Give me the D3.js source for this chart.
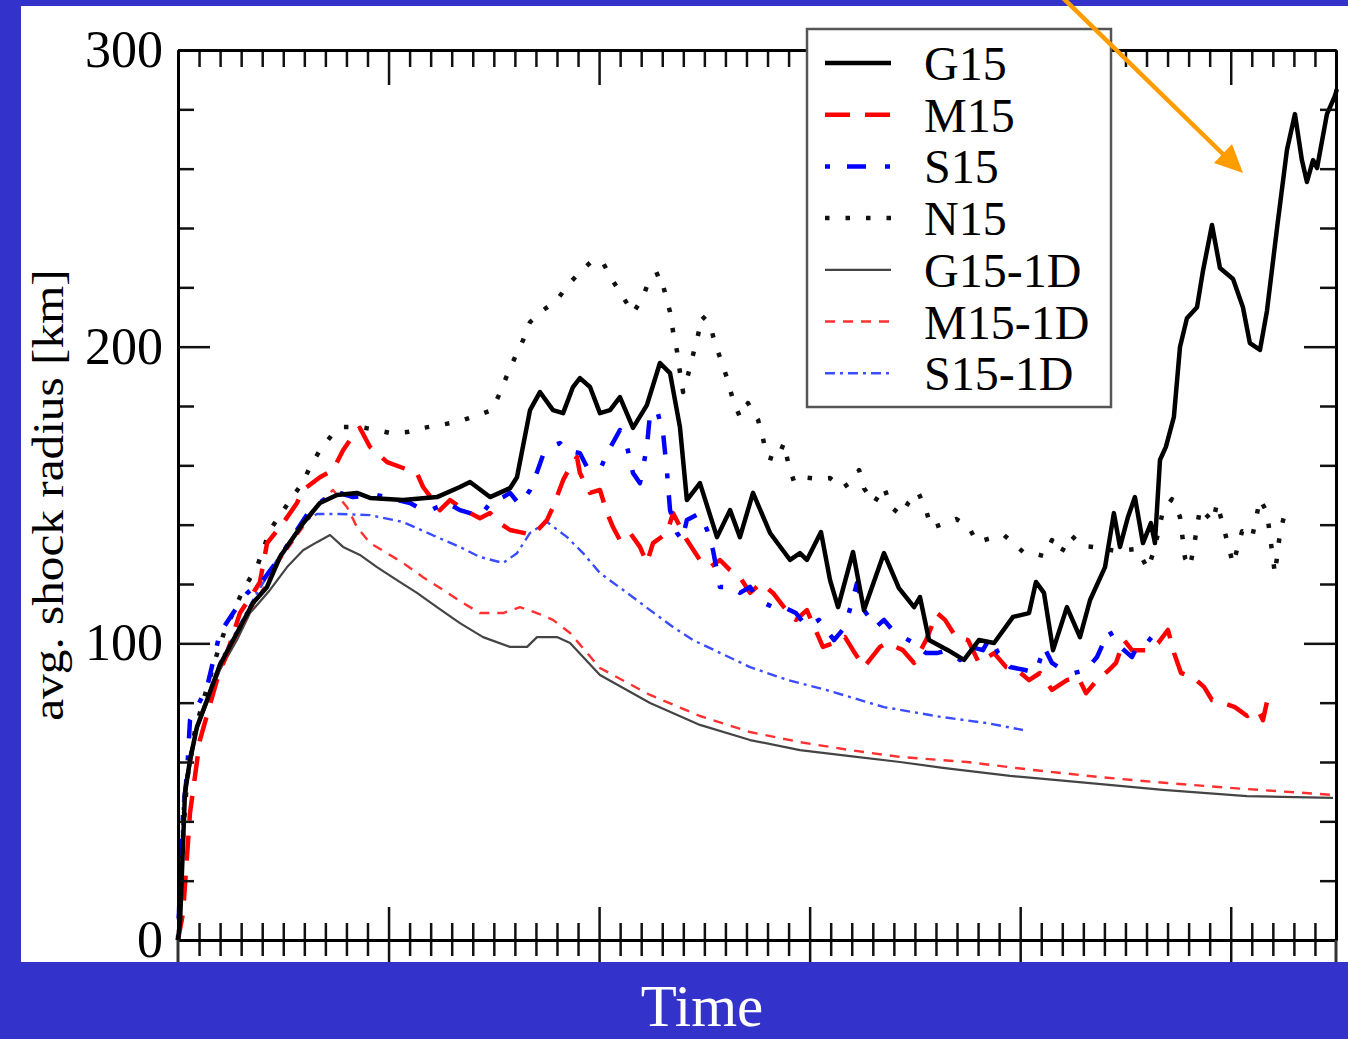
<!DOCTYPE html>
<html>
<head>
<meta charset="utf-8">
<script src="https://cdn.jsdelivr.net/npm/d3@7"></script>
<style>
  html, body { margin: 0; padding: 0; background: #3333cc; }
  svg { display: block; }
</style>
</head>
<body>
<svg id="chart" width="1348" height="1039"></svg>
<script>
// time (ms, unlabelled axis) vs avg. shock radius (km)
const g15 = [[0,0],[1,6.7],[3.3,49.5],[5.7,60.7],[9,71.8],[13.8,80.9],[19.9,92.7],[28,103.5],[35.6,113.6],[42.3,119],[48.4,129.1],[59.4,140.5],[67.4,147.3],[75.5,150],[85,150.7],[91.2,149],[106.9,148.3],[123,149.3],[133.9,152.7],[138.7,154.4],[148.2,149.3],[157.7,152.3],[161,156],[167.2,178.6],[171.9,184.7],[178.1,178.6],[182.9,177.6],[187.6,186.4],[190.9,189.4],[195.7,186.4],[200.4,177.6],[205.2,178.6],[209.9,183],[216.1,172.6],[222.7,180.3],[228.9,194.5],[233.7,191.1],[238.4,172.9],[241.7,148.3],[247.9,154],[256,135.8],[262.2,144.9],[266.9,135.8],[273.1,150.7],[281.2,137.2],[290.7,128.1],[295.4,130.4],[298.7,128.1],[305.4,137.5],[309.7,121.3],[313.5,112.2],[320.6,130.8],[325.8,111.2],[335.3,130.4],[342.4,118.6],[349.6,112.2],[352.4,115.6],[356.7,101.1],[365.7,97.7],[373.3,94.4],[380.4,101.1],[387.6,100.1],[396.6,108.9],[404.2,110.2],[407.5,120.7],[411.3,117],[415.6,97.7],[422.2,112.2],[428.4,102.1],[433.2,114.6],[440.3,125.7],[444.5,143.9],[447.4,132.5],[451.2,142.6],[454.5,149.3],[458.3,133.8],[462.1,140.5],[464,133.8],[466.4,161.8],[469.2,166.2],[473,176.3],[475.9,199.9],[479.2,209.6],[484,213.3],[486.8,225.5],[491.1,241],[494.9,226.5],[501.1,222.8],[505.8,213.3],[509.1,201.2],[513.9,198.9],[517.2,212],[522,240],[526.7,266.3],[530.5,278.4],[533.8,262.9],[536.2,255.5],[539.1,262.9],[541,260.2],[545.7,278.4],[549.5,284.5],[550.4,286.8]];

const m15 = [[0,0],[2.4,9.1],[5.7,42.8],[10.4,67.4],[18.5,87.6],[23.3,96.7],[29.4,110.2],[34.2,115.3],[38.9,120.6],[42.3,133.8],[49.9,140.5],[56.5,147.3],[59.4,151.7],[67.4,156],[73.6,158.4],[78.4,165.1],[85,171.9],[86.4,172.6],[91.2,166.2],[99.3,161.1],[106.9,159.1],[113.5,157.4],[116.4,152.7],[121.1,148.3],[124.4,144.9],[129.2,148.3],[133.9,145.9],[138.7,143.9],[143.4,142.2],[148.2,143.9],[152.9,140.5],[157.7,138.2],[162.4,137.5],[168.6,136.5],[175.3,141.6],[178.1,145.9],[182.9,155],[186.2,159.4],[189.5,162.8],[190.9,157.4],[195.7,150.7],[200.4,151.7],[203.8,143.9],[206.6,139.2],[209.9,134.8],[214.7,137.2],[219.4,132.5],[222.7,127.1],[225.6,133.8],[232.3,137.2],[235.1,143.9],[241.7,134.8],[247.9,128.1],[252.7,125.7],[257.4,128.1],[262.2,124.7],[266.9,122.3],[271.7,117],[276.9,120.3],[282.6,117],[287.8,112.2],[293.5,107.9],[298.7,111.2],[306.3,98.8],[311.6,100.1],[316.8,102.1],[320.6,97.7],[325.8,92],[333.4,98.8],[336.7,100.1],[344.3,97.7],[349.6,93.4],[355.3,101.1],[360.5,110.2],[364.3,107.9],[369.5,102.1],[375.2,101.1],[380.4,93.4],[387.6,96.7],[393.3,92],[398.5,91],[404.2,87.6],[409.4,90],[415.1,84.3],[422.2,87.6],[427.5,88.6],[431.3,83.2],[436.5,87.6],[442.2,91],[445.5,93.4],[449.3,101.1],[453.1,97.7],[460.2,97.7],[465.5,100.1],[470.2,104.5],[473.1,96.7],[476.4,90],[482.1,88.6],[487.3,85.3],[491.1,80.9],[496.3,79.9],[502,78.5],[507.8,75.5],[513,77.5],[515.3,74.1],[517.7,81.9]];

const s15 = [[0,0],[1,20.2],[2.4,42.8],[4.3,56.3],[5.7,74.1],[9,78.5],[13.8,85.3],[19.9,103.5],[28,112.2],[32.8,116.9],[38.9,120.7],[40.4,121.3],[48.4,129.1],[56.5,138.2],[62.7,144.9],[70.8,149.3],[75.5,151],[83.1,149.3],[94.5,150],[104,148.3],[110.2,147.3],[118.3,144.2],[123,145.9],[127.8,147.3],[133.9,144.9],[138.7,143.9],[143.4,142.6],[148.2,147.3],[154.4,149.3],[157.7,150.7],[162.4,146.6],[167.2,151.7],[170.5,157.7],[173.4,163.5],[176.7,166.2],[181.4,167.5],[184.8,165.1],[190.9,164.1],[194.3,159.4],[200.4,158.4],[203.8,164.1],[209.9,171.9],[213.3,166.2],[216.1,157.4],[219.4,154],[222.7,166.2],[224.2,177.6],[227.5,178.6],[230.4,170.9],[232.3,157.4],[233.7,144.9],[237,137.2],[239.4,134.8],[241.7,141.6],[247.9,143.9],[251.3,138.2],[254.1,131.4],[257.4,119],[262.2,119],[266.9,117],[271.7,119],[275.5,114.6],[282.6,112.2],[287.8,112.2],[293.5,110.2],[298.7,105.5],[304.4,107.9],[311.6,101.1],[316.8,105.5],[322.5,120.3],[325.8,111.2],[331.5,105.5],[335.3,107.9],[340.5,103.5],[344.3,102.1],[349.6,100.1],[355.3,96.7],[360.5,96.7],[365.7,97.7],[371.4,94.4],[376.6,98.8],[382.3,97.7],[385.7,102.1],[389.5,96.7],[395.2,92],[402.3,91],[407.5,90],[411.3,98.8],[415.1,93.4],[420.3,91],[425.6,90],[431.3,91],[436.5,95.4],[442.2,104.5],[445.5,100.1],[449.3,97.7],[453.1,95.4],[456.4,100.1],[460.2,100.1],[464,103.5]];

const n15 = [[0,0],[1.9,30.3],[4.3,53.9],[8.1,70.8],[12.8,82.6],[17.6,94.4],[22.3,104.5],[26.1,110.2],[29.4,115.6],[33.2,120.7],[37.5,125.7],[43.7,138.2],[48.4,143.2],[54.1,149],[59.4,154.4],[62.7,159.4],[67.4,165.1],[73.1,170.2],[78.4,172.9],[86.4,172.9],[94.5,171.9],[100.7,170.9],[108.8,171.2],[116.4,172.6],[124.4,173.6],[132.5,174.6],[141.1,176.6],[149.1,178.6],[152.9,184.4],[156.3,190.4],[160.1,196.5],[163.9,202.2],[167.2,208.3],[173.4,212.3],[180,215.7],[185.2,220.8],[190.9,225.1],[197.1,229.2],[201.9,228.2],[206.6,222.1],[211.4,216.7],[216.1,211.3],[220.9,216.7],[224.2,223.4],[228.9,224.8],[231.3,218.1],[233.7,211.7],[235.1,205.2],[237,198.5],[238.4,191.4],[239.9,184.7],[242.2,190.4],[244.6,197.2],[247,203.9],[248.9,210.3],[252.7,207.6],[255.1,200.9],[258.4,194.5],[261.2,188.4],[263.6,182],[266.9,176.3],[270.7,181],[275.5,175.3],[277.8,169.2],[279.7,162.8],[284.5,161.8],[287.8,167.5],[289.7,161.1],[292.6,154.4],[296.8,156],[304.4,155.4],[309.7,155.7],[315.4,152.3],[319.7,154.4],[323.5,158.4],[325.8,152.3],[330.6,147.3],[335.3,152.7],[338.7,145.9],[343.4,143.2],[346.8,147.3],[351.5,151],[355.3,144.9],[357.7,138.9],[364.3,140.5],[369.6,141.9],[375.3,139.5],[379.5,134.1],[384.3,135.1],[392.3,136.5],[396.6,133.8],[401.4,130.8],[405.6,130.4],[411.3,129.4],[415.1,134.8],[419.4,130.4],[424.1,136.5],[429.4,132.8],[434.6,132.5],[446,131.1],[455.5,131.8],[460.7,125],[464,132.5],[467.9,144.9],[472.1,148.6],[475.9,142.6],[478.3,128.7],[480.7,125.7],[484,138.9],[485.4,145.6],[491.6,140.9],[493.5,147.3],[497.3,137.2],[501.1,126.7],[505.4,137.8],[510.1,135.5],[513.9,148.6],[517.2,144.2],[521,123.4],[523.4,137.2],[525.7,143.9]];

const g15_1d = [[0,0],[3.3,48.9],[9,70.8],[19.9,91],[28,101.1],[34.2,110.2],[43.7,118],[51.8,125.7],[59.4,131.4],[66,134.1],[72.2,136.5],[78.4,132.5],[86.4,129.8],[94.5,125.7],[104,121.3],[113.5,117],[123,112.2],[133.9,106.8],[144.9,102.1],[157.7,98.8],[165.8,98.8],[170.5,102.1],[180,102.1],[186.2,100.1],[200.4,89.3],[224.2,79.9],[247.9,72.5],[271.7,67.4],[295.4,64],[319.2,62],[342.9,60],[363.3,58],[395.2,55.3],[433.2,52.9],[467.8,50.6],[507.7,48.5],[548.6,47.9]];

const m15_1d = [[0,0],[3.3,48.9],[9,71.5],[19.9,91.7],[28,102.5],[35.6,112.6],[48.4,128.1],[59.4,139.2],[67.4,147.3],[73.6,151.7],[80.3,145.9],[85,139.2],[91.2,133.8],[99.3,130.4],[106.9,127.1],[116.4,122.3],[125.9,118],[135.4,113.6],[143.4,110.2],[154.4,110.2],[162.4,112.2],[170.5,110.2],[178.1,107.9],[186.2,103.5],[200.4,91.7],[224.2,82.6],[247.9,75.5],[271.7,70.1],[295.4,66.7],[319.2,64],[342.9,61.7],[374.7,60],[406.1,57.3],[437.9,54.9],[469.7,52.9],[501.1,51.2],[548.6,48.9]];

const s15_1d = [[0,0],[2.4,47.2],[5.7,62.4],[9,72.5],[19.9,93.7],[28,104.5],[35.6,114.6],[48.4,129.8],[59.4,140.9],[66,143.6],[76.9,143.6],[91.2,143.2],[106.9,140.9],[123,135.8],[133.9,132.5],[143.4,129.1],[154.4,127.1],[161,130.4],[167.2,137.2],[175.3,140.9],[184.8,135.8],[192.4,130.4],[200.4,123.7],[213.3,117],[224.2,111.2],[235.1,105.5],[244.6,101.1],[271.7,92],[289.7,87.6],[307.8,84.3],[335.3,78.5],[362.4,75.2],[384.2,73.1],[401.3,70.8]];

const seriesNames = ["G15", "M15", "S15", "N15", "G15-1D", "M15-1D", "S15-1D"];
const yMajor = [0, 100, 200, 300];
const yLabel = "avg. shock radius [km]";
const xLabel = "Time";

const serif = "'Liberation Serif', 'Times New Roman', serif";

const styles = {
  "G15":    { color: "#000000", width: 4.5, dash: null },
  "M15":    { color: "#ff0000", width: 4.5, dash: "25,15" },
  "S15":    { color: "#0000ff", width: 4.5, dash: "5,17,19,19" },
  "N15":    { color: "#111111", width: 4.5, dash: "4.5,16" },
  "G15-1D": { color: "#444444", width: 2.2, dash: null },
  "M15-1D": { color: "#ff3030", width: 2.4, dash: "10,8" },
  "S15-1D": { color: "#3a4cff", width: 2.4, dash: "10,5,3,5" }
};
const dataByName = {
  "G15": g15, "M15": m15, "S15": s15, "N15": n15,
  "G15-1D": g15_1d, "M15-1D": m15_1d, "S15-1D": s15_1d
};

const svg = d3.select('#chart');

// white panel on blue slide
svg.append('rect').attr('x', 0).attr('y', 0).attr('width', 1348).attr('height', 1039).attr('fill', '#3333cc');
svg.append('rect').attr('x', 21).attr('y', 6).attr('width', 1327).attr('height', 956).attr('fill', '#ffffff');

const plotLeft = 178, plotRight = 1336, plotTop = 50, plotBottom = 940;
const x = d3.scaleLinear().domain([0, 550]).range([plotLeft, plotRight]);
const y = d3.scaleLinear().domain([0, 300]).range([plotBottom, plotTop]);

const xMajor = d3.range(0, 551, 100);
const xMinor = d3.range(10, 550, 10).filter(v => v % 100 !== 0);
const yMinor = d3.range(20, 300, 20).filter(v => v % 100 !== 0);

// curves (1D first, then multi-D, G15 on top)
const line = d3.line().x(d => x(d[0])).y(d => y(d[1]));
const drawOrder = ["G15-1D", "M15-1D", "S15-1D", "N15", "M15", "S15", "G15"];
const plot = svg.append('g');
drawOrder.forEach(name => {
  const st = styles[name];
  plot.append('path')
    .datum(dataByName[name])
    .attr('d', line)
    .attr('fill', 'none')
    .attr('stroke', st.color)
    .attr('stroke-width', st.width)
    .attr('stroke-linejoin', 'round')
    .attr('stroke-dasharray', st.dash);
});

// axes
function styleAxis(g) {
  g.selectAll('.domain').attr('stroke', '#000').attr('stroke-width', 3);
  g.selectAll('.tick line').attr('stroke', '#111').attr('stroke-width', 2.5);
  g.selectAll('text').attr('font-family', serif).attr('font-size', 52).attr('fill', '#000');
}

svg.append('g').attr('transform', `translate(${plotLeft},0)`)
  .call(d3.axisLeft(y).tickValues(yMinor).tickSize(-16).tickSizeOuter(0).tickFormat(''))
  .call(styleAxis);
svg.append('g').attr('transform', `translate(${plotLeft},0)`)
  .call(d3.axisLeft(y).tickValues(yMajor).tickSize(-32).tickSizeOuter(0).tickPadding(15).tickFormat(d3.format('d')))
  .call(styleAxis);
svg.append('g').attr('transform', `translate(${plotRight},0)`)
  .call(d3.axisRight(y).tickValues(yMinor).tickSize(-16).tickSizeOuter(0).tickFormat(''))
  .call(styleAxis);
svg.append('g').attr('transform', `translate(${plotRight},0)`)
  .call(d3.axisRight(y).tickValues(yMajor.slice(1, 3)).tickSize(-32).tickSizeOuter(0).tickFormat(''))
  .call(styleAxis);

svg.append('g').attr('transform', `translate(0,${plotTop})`)
  .call(d3.axisTop(x).tickValues(xMinor).tickSize(-17).tickSizeOuter(0).tickFormat(''))
  .call(styleAxis);
svg.append('g').attr('transform', `translate(0,${plotTop})`)
  .call(d3.axisTop(x).tickValues(xMajor.slice(1)).tickSize(-35).tickSizeOuter(0).tickFormat(''))
  .call(styleAxis);

// bottom ticks cross the axis (panel below is cut off)
svg.append('g').attr('transform', `translate(0,${plotBottom})`)
  .call(d3.axisBottom(x).tickValues(xMinor).tickSize(-17).tickSizeOuter(0).tickFormat(''))
  .call(styleAxis);
svg.append('g').attr('transform', `translate(0,${plotBottom})`)
  .call(d3.axisBottom(x).tickValues(xMinor).tickSize(16).tickSizeOuter(0).tickFormat(''))
  .call(styleAxis);
svg.append('g').attr('transform', `translate(0,${plotBottom})`)
  .call(d3.axisBottom(x).tickValues(xMajor.slice(1)).tickSize(-33).tickSizeOuter(0).tickFormat(''))
  .call(styleAxis);
svg.append('g').attr('transform', `translate(0,${plotBottom})`)
  .call(d3.axisBottom(x).tickValues(xMajor.slice(1)).tickSize(22).tickSizeOuter(0).tickFormat(''))
  .call(styleAxis);

// frame edges continue into the cut-off lower panel
[plotLeft, plotRight].forEach(px => {
  svg.append('line').attr('x1', px).attr('x2', px).attr('y1', plotBottom).attr('y2', 962)
    .attr('stroke', '#333').attr('stroke-width', 3);
});

// y label
svg.append('text')
  .attr('transform', 'translate(63,495) rotate(-90) scale(1.12,1)')
  .attr('text-anchor', 'middle')
  .attr('font-family', serif)
  .attr('font-size', 44)
  .attr('fill', '#000')
  .text(yLabel);

// x label on the slide
svg.append('text')
  .attr('x', 702).attr('y', 1026)
  .attr('text-anchor', 'middle')
  .attr('font-family', serif)
  .attr('font-size', 59)
  .attr('fill', '#ffffff')
  .text(xLabel);

// legend
const legend = svg.append('g');
legend.append('rect')
  .attr('x', 807).attr('y', 29).attr('width', 304).attr('height', 378)
  .attr('fill', '#fff').attr('stroke', '#555').attr('stroke-width', 2.5);
seriesNames.forEach((name, i) => {
  const st = styles[name];
  const ry = 63 + i * 51.7;
  legend.append('line')
    .attr('x1', 825).attr('x2', 891).attr('y1', ry).attr('y2', ry)
    .attr('stroke', st.color).attr('stroke-width', st.width)
    .attr('stroke-dasharray', st.dash);
  legend.append('text')
    .attr('x', 924).attr('y', ry + 17)
    .attr('font-family', serif).attr('font-size', 48).attr('fill', '#000')
    .text(name);
});

// orange arrow pointing at the late G15 rise
const arrow = svg.append('g');
arrow.append('line')
  .attr('x1', 1061).attr('y1', -4).attr('x2', 1228).attr('y2', 159)
  .attr('stroke', '#ff9c00').attr('stroke-width', 4.5);
arrow.append('polygon')
  .attr('points', '1243,173 1214,163 1232,144')
  .attr('fill', '#ff9c00');
</script>
</body>
</html>
